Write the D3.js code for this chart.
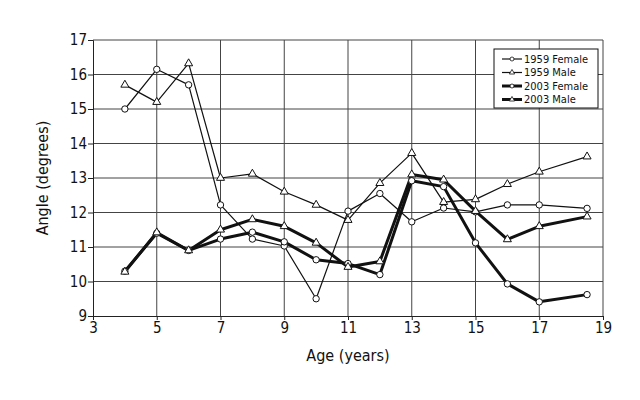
<!DOCTYPE html>
<html>
<head>
<meta charset="utf-8">
<script src="https://cdn.jsdelivr.net/npm/d3@7"></script>
<style>
  body { margin: 0; background: #fff; }
  svg text { font-family: "DejaVu Sans Condensed", "Liberation Sans Narrow", sans-serif; fill: #111; }
</style>
</head>
<body>
<div id="chart"></div>
<script>
const ages = [4, 5, 6, 7, 8, 9, 10, 11, 12, 13, 14, 15, 16, 17, 18.5];
const female1959 = [15.0, 16.15, 15.7, 12.22, 11.23, 11.03, 9.5, 12.04, 12.55, 11.73, 12.13, 12.02, 12.22, 12.22, 12.12];
const male1959 = [15.7, 15.2, 16.32, 13.0, 13.12, 12.6, 12.22, 11.78, 12.85, 13.72, 12.3, 12.38, 12.82, 13.18, 13.62];
const female2003 = [10.3, 11.4, 10.9, 11.23, 11.43, 11.15, 10.63, 10.52, 10.2, 12.92, 12.75, 11.12, 9.93, 9.41, 9.62];
const male2003 = [10.28, 11.42, 10.9, 11.5, 11.8, 11.6, 11.12, 10.42, 10.58, 13.1, 12.95, 12.04, 11.22, 11.6, 11.88];

const xTicks = [3, 5, 7, 9, 11, 13, 15, 17, 19];
const yTicks = [9, 10, 11, 12, 13, 14, 15, 16, 17];

const series = [
  { name: '1959 Female', values: female1959, thick: false, marker: 'circle' },
  { name: '1959 Male', values: male1959, thick: false, marker: 'triangle' },
  { name: '2003 Female', values: female2003, thick: true, marker: 'circle' },
  { name: '2003 Male', values: male2003, thick: true, marker: 'triangle' },
];

const W = 640, H = 400;
const margin = { top: 40, right: 37, bottom: 84, left: 93 };
const width = W - margin.left - margin.right;
const height = H - margin.top - margin.bottom;

const svg = d3.select('#chart').append('svg')
  .attr('width', W)
  .attr('height', H);

const g = svg.append('g')
  .attr('transform', `translate(${margin.left}, ${margin.top})`);

const x = d3.scaleLinear().domain([3, 19]).range([0, width]);
const y = d3.scaleLinear().domain([9, 17]).range([height, 0]);

// grid
g.append('g')
  .selectAll('line')
  .data(yTicks.slice(1))
  .join('line')
  .attr('x1', 0).attr('x2', width)
  .attr('y1', d => y(d)).attr('y2', d => y(d))
  .attr('stroke', '#444').attr('stroke-width', 1);

g.append('g')
  .selectAll('line')
  .data(xTicks.slice(1))
  .join('line')
  .attr('x1', d => x(d)).attr('x2', d => x(d))
  .attr('y1', 0).attr('y2', height)
  .attr('stroke', '#444').attr('stroke-width', 1);

// axes
const xAxis = g.append('g')
  .attr('transform', `translate(0, ${height})`)
  .call(d3.axisBottom(x).tickValues(xTicks).tickSize(4).tickFormat(d3.format('d')));
const yAxis = g.append('g')
  .call(d3.axisLeft(y).tickValues(yTicks).tickSize(5).tickFormat(d3.format('d')));

[xAxis, yAxis].forEach(a => {
  a.select('.domain').attr('stroke', '#222');
  a.selectAll('.tick line').attr('stroke', '#222');
  a.selectAll('.tick text')
    .style('font-size', '15px')
    .style('font-family', '"DejaVu Sans Condensed", sans-serif')
    .attr('fill', '#111');
});
xAxis.selectAll('.tick text').attr('y', 6);
yAxis.selectAll('.tick text').attr('x', -6);

// axis titles
g.append('text')
  .attr('x', width / 2)
  .attr('y', height + 45)
  .attr('text-anchor', 'middle')
  .style('font-size', '16px')
  .text('Age (years)');

g.append('text')
  .attr('transform', `translate(${-45}, ${height / 2}) rotate(-90)`)
  .attr('text-anchor', 'middle')
  .style('font-size', '16px')
  .text('Angle (degrees)');

// lines
const line = d3.line()
  .x((d, i) => x(ages[i]))
  .y(d => y(d));

const tri = d3.symbol().type(d3.symbolTriangle).size(28);

function drawMarkers(sel, s, cx, cy) {
  if (s.marker === 'circle') {
    sel.append('circle')
      .attr('cx', cx).attr('cy', cy).attr('r', 3.2)
      .attr('fill', '#fff').attr('stroke', '#111').attr('stroke-width', 1);
  } else {
    sel.append('path')
      .attr('d', tri)
      .attr('transform', `translate(${cx}, ${cy})`)
      .attr('fill', '#fff').attr('stroke', '#111').attr('stroke-width', 1);
  }
}

series.forEach(s => {
  g.append('path')
    .datum(s.values)
    .attr('d', line)
    .attr('fill', 'none')
    .attr('stroke', '#111')
    .attr('stroke-width', s.thick ? 3 : 1.2)
    .attr('stroke-linejoin', 'round');
});

series.forEach(s => {
  const mg = g.append('g');
  s.values.forEach((v, i) => drawMarkers(mg, s, x(ages[i]), y(v)));
});

// legend
const lg = svg.append('g').attr('transform', 'translate(494, 49)');
lg.append('rect')
  .attr('width', 104).attr('height', 59)
  .attr('fill', '#fff').attr('stroke', '#111').attr('stroke-width', 1);

series.forEach((s, i) => {
  const row = lg.append('g').attr('transform', `translate(0, ${10 + i * 13.5})`);
  row.append('line')
    .attr('x1', 8).attr('x2', 28).attr('y1', 0).attr('y2', 0)
    .attr('stroke', '#111').attr('stroke-width', s.thick ? 3 : 1.2);
  if (s.marker === 'circle') {
    row.append('circle').attr('cx', 18).attr('cy', 0).attr('r', 2)
      .attr('fill', '#fff').attr('stroke', '#111').attr('stroke-width', 0.8);
  } else {
    row.append('path').attr('d', d3.symbol().type(d3.symbolTriangle).size(12))
      .attr('transform', 'translate(18, 0)')
      .attr('fill', '#fff').attr('stroke', '#111').attr('stroke-width', 0.8);
  }
  row.append('text')
    .attr('x', 30).attr('y', 0).attr('dy', '0.35em')
    .style('font-size', '11px')
    .text(s.name);
});
</script>
</body>
</html>
